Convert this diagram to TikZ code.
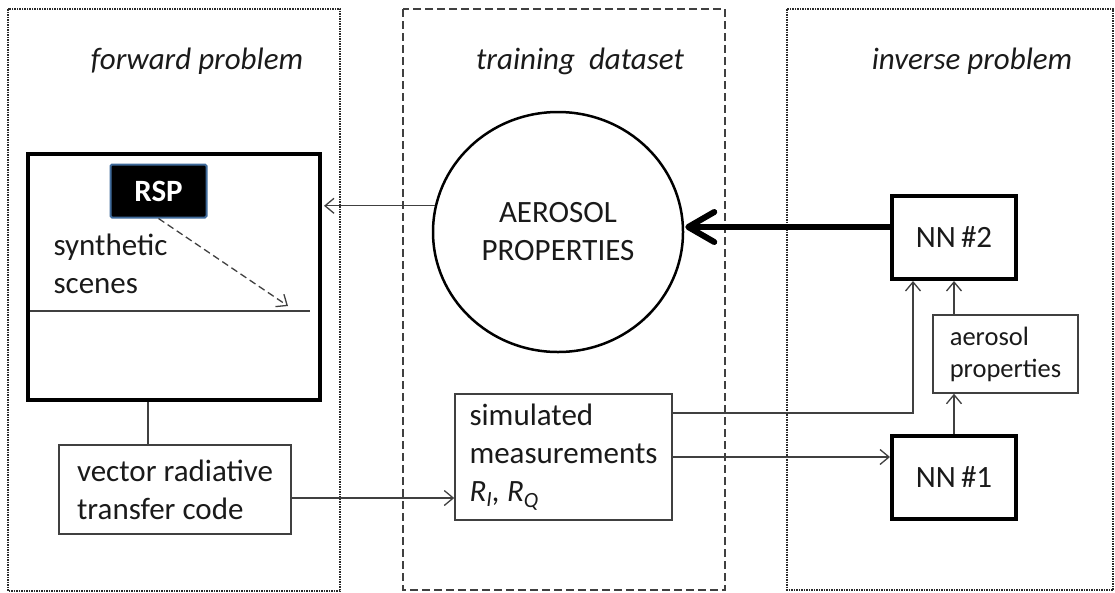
\documentclass[tikz,border=0pt]{standalone}
\usepackage{fontspec}
\setmainfont{Carlito}
\usetikzlibrary{arrows.meta,shapes.geometric,calc}
\definecolor{linec}{HTML}{404040}
\definecolor{panelc}{HTML}{2A2A2A}
\definecolor{textc}{HTML}{1A1A1A}
\definecolor{rspblue}{HTML}{3F6A9A}
\begin{document}
\begin{tikzpicture}[x=1pt,y=-1pt,
  every node/.style={font=\fontsize{31}{38}\selectfont, text=textc},
  panel/.style={draw=panelc, line width=1.2pt, dash pattern=on 1.5pt off 1pt},
  midpanel/.style={draw=linec, line width=1.2pt, dash pattern=on 8pt off 4pt},
  title/.style={font=\fontsize{31}{38}\selectfont\itshape},
  thinbox/.style={draw=linec, line width=1.5pt, rectangle, inner sep=0pt, align=left},
  thickbox/.style={draw=black, line width=4pt, rectangle, inner sep=0pt, align=center},
  conn/.style={draw=linec, line width=1.3pt},
  arr/.style={conn, -{Straight Barb[length=9pt,width=15pt]}},
  bigarr/.style={draw=black, line width=6pt, -{Straight Barb[length=26pt,width=30pt,round]}},
]
\useasboundingbox (0,0) rectangle (1115,592);
% panels
\draw[panel] (8,9) rectangle (340,591);
\draw[midpanel] (403,9) rectangle (725,590);
\draw[panel] (787,9) rectangle (1113,590);
% titles
\node[title] (tfwd) at (197,61) {forward problem};
\node[title] (ttrain) at (580,61) {training~~dataset};
\node[title] (tinv) at (972,61) {inverse problem};
% forward problem
\node[thickbox, minimum width=292pt, minimum height=246pt] (scenes) at (174,277) {};
\node[draw=rspblue, fill=black, line width=2pt, rounded corners=1.5pt, minimum width=96pt, minimum height=53pt,
      inner sep=0pt, text=white, font=\fontsize{31}{38}\selectfont\bfseries] (rsp) at (158.5,191) {RSP};
\draw[conn, line width=1.5pt] (30,311) -- (310,311);
\coordinate (hit) at (288,306);
\draw[arr, dash pattern=on 7pt off 4pt] (rsp.south) -- (hit);
\node[align=left, anchor=west] (slabel) at (50,264) {synthetic\\scenes};
\node[thinbox, minimum width=232pt, minimum height=89pt] (vrt) at (175,489.5) {vector radiative\\transfer code};
% training dataset
\node[ellipse, draw=black, line width=2.5pt, minimum width=250pt, minimum height=240pt,
      inner sep=0pt, align=center] (circ) at (558,232) {AEROSOL\\PROPERTIES};
\node[thinbox, minimum width=217pt, minimum height=126pt] (sim) at (563.5,457)
  {simulated\\measurements\\\textit{R\textsubscript{I}, R\textsubscript{Q}}};
% inverse problem
\node[thickbox, minimum width=124pt, minimum height=83pt] (nn2) at (954,237.5) {NN\,\#2};
\node[thickbox, minimum width=124pt, minimum height=83pt] (nn1) at (954,477.5) {NN\,\#1};
\node[thinbox, minimum width=145pt, minimum height=78pt, font=\fontsize{26.5}{32}\selectfont] (aero) at (1005.5,354) {aerosol\\properties};
% connectors
\draw[conn] ([xshift=-27pt]vrt.north) -- ([xshift=-27pt]vrt.north |- scenes.south);
\draw[arr] ([yshift=-8.5pt]vrt.east) -- ([yshift=-8.5pt]vrt.east -| sim.west);
\draw[arr] (sim.east) -- (sim.east -| nn1.west);
\draw[arr] ([yshift=44pt]sim.east) -| ([xshift=-41pt]nn2.south);
\draw[arr] (nn1.north) -- (nn1.north |- aero.south);
\draw[arr] (nn1.north |- aero.north) -- (nn2.south);
\draw[arr, shorten >=2pt] (circ.168) -- (circ.168 -| scenes.east);
\draw[bigarr, shorten >=1pt] ([yshift=10.5pt]nn2.west) -- ([yshift=10.5pt]nn2.west -| circ.east);
\end{tikzpicture}
\end{document}
